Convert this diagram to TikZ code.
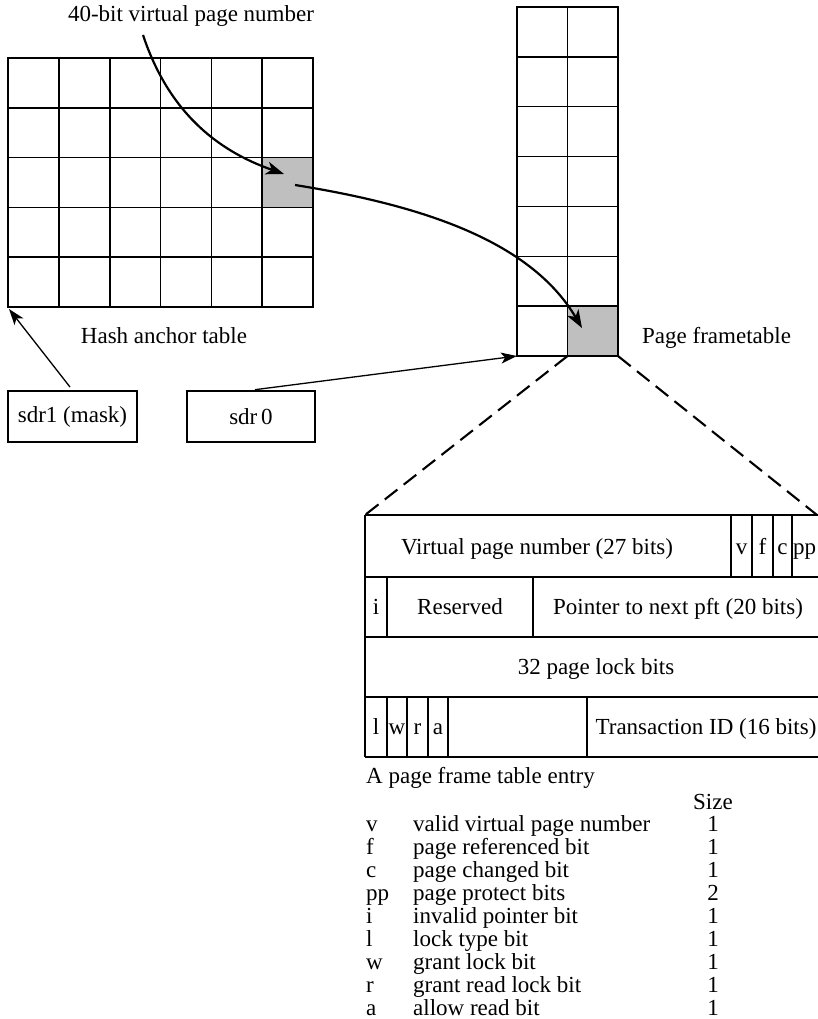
\documentclass[tikz,border=0pt]{standalone}
\usepackage{fontspec}
\setmainfont{Liberation Serif}
\usetikzlibrary{arrows.meta,calc}
\begin{document}
\begin{tikzpicture}[x=1pt,y=-1pt,
  every node/.style={font=\fontsize{23}{23}\selectfont, inner sep=0pt},
  gridline/.style={line width=1.6pt},
  selcell/.style={fill=black!25, draw=none},
  regbox/.style={draw, line width=1.6pt},
  conn/.style={line width=2.2pt, -{Stealth[length=18pt,width=13pt,inset=5pt]}},
  thinconn/.style={line width=1.3pt, -{Stealth[length=16pt,width=11pt,inset=4pt]}},
  zoomline/.style={line width=2.1pt, dash pattern=on 16pt off 8pt},
  lbl/.style={anchor=base}]
\useasboundingbox (0,0) rectangle (817,1019);

% ---------- hash anchor table (6 x 5) ----------
\node[selcell, minimum width=50.8pt, minimum height=49.8pt] (hsel) at (287.6,182.5) {};
\draw[gridline] (8,58) rectangle (313,307);
\foreach \x in {58.8,109.7,160.5,211.3,262.2} \draw[gridline] (\x,58) -- (\x,307);
\foreach \y in {107.8,157.6,207.4,257.2} \draw[gridline] (8,\y) -- (313,\y);
\coordinate (hbl) at (9,309);

% ---------- page frame table (2 x 7) ----------
\node[selcell, minimum width=50.5pt, minimum height=49.9pt] (psel) at (592.75,331.05) {};
\draw[gridline] (517,7) rectangle (618,356);
\draw[gridline] (567.5,7) -- (567.5,356);
\foreach \y in {56.9,106.7,156.6,206.4,256.3,306.1} \draw[gridline] (517,\y) -- (618,\y);
\coordinate (pbl) at (517,356);

% ---------- labels ----------
\node[lbl] (vpn) at (191,22) {40-bit virtual page number};
\node[lbl] (hat) at (164,343) {Hash anchor table};
\node[lbl, anchor=base west] (pft) at (642,343) {Page frametable};

% ---------- registers ----------
\node[regbox, minimum width=129pt, minimum height=51pt] (sdr1) at (72.5,416.5) {sdr1 (mask)};
\node[regbox, minimum width=128pt, minimum height=51pt] (sdr0) at (251,416.5) {sdr\,0};

% ---------- connectors ----------
\coordinate (vstart) at (143,35);
\coordinate (hin) at (284,174);
\coordinate (hout) at (295,185);
\coordinate (pin) at (582,328);
\draw[conn] (vstart) .. controls (168,110) and (215,150) .. (hin);
\draw[conn] (hout) .. controls (420,205) and (530,240) .. (pin);
\draw[thinconn, shorten <=4pt] (sdr1.north) -- (hbl);
\draw[thinconn, shorten <=4pt] (sdr0.north) -- (pbl);

% ---------- page frame table entry ----------
\coordinate (etl) at (365,515);
\coordinate (etr) at (817,515);
\draw[zoomline] (psel.south west) -- (etl);
\draw[zoomline] (psel.south east) -- (etr);

\draw[gridline] (365,515) -- (820,515);
\draw[gridline] (365,577) -- (820,577);
\draw[gridline] (365,637) -- (820,637);
\draw[gridline] (365,697) -- (820,697);
\draw[gridline] (365,757) -- (820,757);
\draw[gridline] (365,515) -- (365,757);
% row 1
\foreach \x in {731,752,773,792} \draw[gridline] (\x,515) -- (\x,577);
\node[lbl] (vpn27) at (537,554) {Virtual page number (27 bits)};
\node[lbl] (fv) at (741.5,554) {v};
\node[lbl] (ff) at (762.5,554) {f};
\node[lbl] (fc) at (782.5,554) {c};
\node[lbl, anchor=base west] (fpp) at (793,554) {pp};
% row 2
\foreach \x in {387,533} \draw[gridline] (\x,577) -- (\x,637);
\node[lbl] (fi) at (376,614) {i};
\node[lbl] (fres) at (460,614) {Reserved};
\node[lbl] (fptr) at (678,614) {Pointer to next pft (20 bits)};
% row 3
\node[lbl] (flock) at (596,674) {32 page lock bits};
% row 4
\foreach \x in {387,407,428,448,587} \draw[gridline] (\x,697) -- (\x,757);
\node[lbl] (fl) at (376,734) {l};
\node[lbl] (fw) at (397,734) {w};
\node[lbl] (fr) at (417.5,734) {r};
\node[lbl] (fa) at (438,734) {a};
\node[lbl] (ftid) at (706,734) {Transaction ID (16 bits)};

% ---------- key ----------
\node[lbl, anchor=base west] (cap) at (366,783) {A page frame table entry};
\node[lbl] (size) at (713,809) {Size};
\foreach [count=\i] \ab/\desc/\sz in {
    v/valid virtual page number/1,
    f/page referenced bit/1,
    c/page changed bit/1,
    pp/page protect bits/2,
    i/invalid pointer bit/1,
    l/lock type bit/1,
    w/grant lock bit/1,
    r/grant read lock bit/1,
    a/allow read bit/1} {
  \node[lbl, anchor=base west] (ab\i) at (366,807.9+23.1*\i) {\ab};
  \node[lbl, anchor=base west] (ds\i) at (413,807.9+23.1*\i) {\desc};
  \node[lbl] (sz\i) at (713,807.9+23.1*\i) {\sz};
}
\end{tikzpicture}
\end{document}
